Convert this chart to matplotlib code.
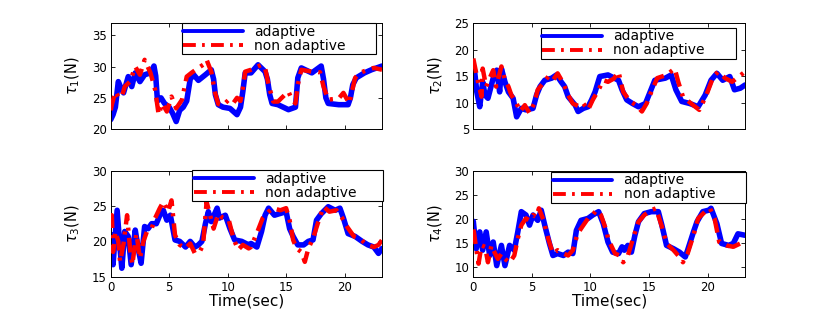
import matplotlib
matplotlib.use("Agg")
import matplotlib.pyplot as plt

# ---------------- data (time [s], torque [N]) ----------------
tau1_adaptive = [(0, 21.5), (0.2, 22.3), (0.4, 23.5), (0.65, 27.6), (0.9, 26.5), (1.1, 25.8), (1.5, 28.4),
                 (1.8, 26.8), (2.1, 29.0), (2.5, 27.6), (2.9, 28.7), (3.4, 29.0), (3.7, 30.1), (3.85, 28.5),
                 (4.0, 24.5), (4.3, 25.0), (4.6, 24.1), (5.0, 23.5), (5.3, 22.5), (5.6, 21.2), (5.9, 23.0),
                 (6.2, 23.5), (6.5, 24.5), (6.8, 28.0), (7.1, 28.7), (7.5, 27.8), (8.1, 28.7), (8.6, 29.5),
                 (8.8, 28.0), (8.95, 25.5), (9.2, 23.9), (9.6, 23.5), (10.2, 23.3), (10.8, 22.3), (11.1, 23.5),
                 (11.3, 26.0), (11.5, 29.0), (12.0, 29.0), (12.6, 30.3), (13.2, 29.2), (13.4, 28.0),
                 (13.6, 25.5), (13.8, 24.1), (14.3, 23.9), (15.2, 23.1), (15.8, 23.5), (16.0, 28.2),
                 (16.3, 29.8), (17.2, 29.0), (18.0, 30.1), (18.2, 28.0), (18.4, 25.0), (18.6, 24.1),
                 (19.5, 23.9), (20.3, 23.9), (20.5, 25.0), (20.7, 27.1), (21.0, 28.2), (21.7, 29.0),
                 (22.3, 29.5), (23.2, 30.1)]
tau1_nonadaptive = [(0, 23.0), (0.1, 23.9), (0.4, 26.0), (0.7, 25.0), (0.95, 25.2), (1.2, 26.8), (1.65, 27.6),
                    (2.1, 30.0), (2.5, 28.7), (2.9, 31.1), (3.4, 29.0), (3.8, 26.3), (4.1, 22.3), (4.4, 24.1),
                    (4.8, 22.8), (5.2, 25.2), (5.6, 23.3), (6.1, 24.7), (6.5, 28.4), (6.9, 29.0), (7.5, 29.8),
                    (7.9, 30.3), (8.2, 31.1), (8.6, 29.2), (8.9, 26.0), (9.2, 24.0), (9.6, 23.8), (10.1, 24.7),
                    (10.5, 24.2), (10.8, 25.0), (11.1, 24.5), (11.3, 26.5), (11.5, 29.2), (12.0, 29.5),
                    (12.9, 30.3), (13.2, 29.8), (13.5, 27.1), (13.9, 24.4), (14.3, 24.4), (14.9, 25.5),
                    (15.2, 26.0), (15.5, 24.7), (15.8, 24.1), (16.0, 27.1), (16.3, 29.5), (17.2, 29.2),
                    (17.9, 29.1), (18.2, 26.8), (18.6, 24.7), (19.5, 24.9), (19.9, 25.8), (20.4, 24.1),
                    (20.9, 28.2), (21.3, 29.0), (22.0, 29.5), (22.5, 29.8), (23.2, 29.5)]

tau2_adaptive = [(0, 13.0), (0.1, 16.1), (0.3, 12.0), (0.55, 9.2), (0.8, 13.9), (1.0, 11.4), (1.25, 10.8),
                 (1.7, 14.6), (2.0, 16.1), (2.25, 12.0), (2.4, 16.4), (2.7, 13.9), (3.0, 12.0), (3.4, 10.8),
                 (3.7, 7.3), (4.1, 8.9), (4.5, 8.6), (5.1, 8.9), (5.4, 11.4), (5.7, 13.0), (6.1, 14.2),
                 (6.7, 14.6), (7.1, 15.2), (7.5, 13.9), (7.8, 13.0), (8.1, 11.1), (8.7, 9.5), (8.95, 8.3),
                 (9.4, 8.9), (9.8, 9.2), (10.1, 10.5), (10.4, 12.0), (10.8, 14.9), (11.5, 15.2), (12.4, 14.2),
                 (12.7, 12.4), (13.1, 10.5), (13.6, 9.8), (14.1, 9.2), (14.7, 9.8), (15.1, 12.0), (15.5, 14.2),
                 (16.4, 14.6), (16.9, 15.2), (17.3, 12.4), (17.8, 10.2), (18.5, 9.8), (19.2, 9.2), (19.8, 11.4),
                 (20.3, 14.2), (20.8, 15.5), (21.3, 14.2), (21.9, 14.9), (22.3, 12.4), (22.8, 12.7),
                 (23.2, 13.3)]
tau2_nonadaptive = [(0, 18.3), (0.4, 13.9), (0.7, 11.1), (0.8, 16.4), (1.1, 13.0), (1.4, 14.6), (1.7, 16.1),
                    (1.95, 13.0), (2.4, 16.8), (2.7, 14.2), (3.0, 13.0), (3.25, 11.4), (3.7, 9.8), (4.0, 8.3),
                    (4.4, 9.5), (4.8, 8.0), (5.2, 9.8), (5.5, 12.4), (5.95, 13.6), (6.4, 14.9), (6.8, 14.2),
                    (7.2, 15.5), (7.7, 13.6), (8.1, 11.4), (8.5, 9.8), (9.1, 9.2), (9.4, 9.8), (9.8, 8.6),
                    (10.2, 10.5), (10.7, 12.4), (11.1, 14.2), (11.5, 13.9), (12.0, 14.5), (12.4, 15.8),
                    (12.8, 12.0), (13.4, 10.2), (13.9, 9.5), (14.4, 8.3), (14.8, 9.8), (15.2, 12.0),
                    (15.7, 14.6), (16.5, 15.2), (17.2, 16.4), (17.5, 13.9), (17.9, 11.1), (18.6, 9.8),
                    (19.3, 8.6), (19.9, 11.4), (20.5, 14.9), (20.9, 15.8), (21.5, 14.6), (22.1, 13.9),
                    (22.5, 14.6), (23.2, 15.8)]

tau3_adaptive = [(0, 21.0), (0.1, 19.0), (0.2, 16.7), (0.55, 24.4), (0.8, 19.0), (0.95, 16.2), (1.2, 21.4),
                 (1.5, 20.7), (1.75, 16.7), (2.1, 21.6), (2.35, 19.0), (2.6, 16.9), (2.9, 22.1), (3.2, 21.8),
                 (3.5, 22.5), (3.9, 22.5), (4.2, 23.7), (4.5, 24.4), (4.8, 23.0), (5.1, 23.7), (5.5, 20.2),
                 (5.9, 20.0), (6.4, 19.2), (6.8, 20.0), (7.2, 19.2), (7.5, 19.5), (7.8, 20.0), (8.1, 22.5),
                 (8.35, 24.2), (8.6, 22.8), (9.1, 24.7), (9.3, 23.3), (9.8, 23.7), (10.2, 21.8), (10.6, 20.2),
                 (11.2, 20.0), (11.8, 19.5), (12.0, 19.7), (12.5, 19.2), (12.9, 21.4), (13.2, 23.7),
                 (13.5, 24.7), (14.0, 23.7), (14.6, 24.0), (15.0, 24.2), (15.3, 21.8), (15.6, 20.7),
                 (16.0, 19.5), (16.5, 19.5), (16.9, 20.0), (17.3, 20.2), (17.6, 23.0), (18.0, 23.9),
                 (18.6, 24.9), (19.2, 24.4), (19.6, 24.7), (19.9, 23.3), (20.3, 21.1), (20.9, 20.7),
                 (21.5, 20.0), (22.0, 19.5), (22.5, 19.2), (22.9, 18.3), (23.2, 19.0)]
tau3_nonadaptive = [(0, 23.5), (0.1, 23.7), (0.2, 18.5), (0.4, 21.4), (0.65, 20.0), (0.8, 17.1), (1.1, 19.7),
                    (1.4, 23.7), (1.65, 19.0), (1.85, 16.7), (2.2, 21.1), (2.5, 17.6), (2.8, 20.0), (3.1, 21.4),
                    (3.5, 21.8), (3.8, 23.3), (4.2, 24.7), (4.5, 25.6), (4.9, 24.2), (5.2, 25.8), (5.5, 20.9),
                    (5.9, 19.5), (6.4, 19.0), (6.8, 19.7), (7.2, 18.3), (7.6, 18.5), (7.9, 19.5), (8.2, 25.6),
                    (8.5, 23.7), (8.8, 21.8), (9.2, 23.9), (9.6, 23.3), (10.1, 23.0), (10.5, 20.4),
                    (10.9, 18.8), (11.3, 19.5), (11.8, 19.0), (12.0, 19.2), (12.6, 21.6), (13.0, 23.3),
                    (13.5, 24.2), (13.9, 24.7), (14.5, 24.4), (15.0, 24.7), (15.3, 23.0), (15.6, 20.2),
                    (15.9, 19.0), (16.3, 18.5), (16.6, 17.1), (16.9, 19.0), (17.3, 20.4), (17.7, 22.5),
                    (18.2, 24.9), (18.7, 24.2), (19.3, 24.4), (19.8, 23.3), (20.2, 22.1), (20.8, 20.7),
                    (21.3, 20.4), (21.9, 19.5), (22.5, 19.2), (22.9, 19.5), (23.2, 20.2)]

tau4_adaptive = [(0, 19.5), (0.05, 18.3), (0.25, 13.8), (0.55, 17.3), (0.8, 13.5), (1.1, 17.3), (1.4, 12.4),
                 (1.7, 15.2), (2.0, 10.3), (2.4, 14.5), (2.7, 10.3), (3.1, 14.5), (3.5, 13.5), (3.8, 17.3),
                 (4.1, 21.5), (4.5, 20.8), (4.8, 18.7), (5.1, 20.8), (5.5, 19.7), (5.8, 21.8), (6.1, 18.7),
                 (6.5, 14.9), (6.8, 12.4), (7.2, 12.8), (7.7, 12.4), (8.1, 13.1), (8.5, 12.8), (8.8, 17.6),
                 (9.2, 19.7), (9.8, 20.1), (10.2, 20.8), (10.7, 21.5), (11.1, 19.0), (11.5, 15.2),
                 (11.9, 13.1), (12.4, 12.8), (12.7, 14.2), (12.9, 13.5), (13.2, 14.5), (13.5, 13.1),
                 (13.8, 16.6), (14.1, 19.4), (14.6, 21.1), (15.2, 21.5), (15.8, 21.5), (16.1, 18.7),
                 (16.5, 14.5), (17.1, 13.8), (17.6, 13.1), (18.1, 12.1), (18.3, 13.5), (18.8, 17.3),
                 (19.1, 19.4), (19.6, 21.5), (20.1, 21.8), (20.3, 22.2), (20.8, 19.0), (21.2, 14.9),
                 (21.8, 14.5), (22.2, 14.9), (22.6, 16.9), (23.2, 16.6)]
tau4_nonadaptive = [(0, 17.8), (0.05, 17.3), (0.25, 13.8), (0.45, 10.7), (0.7, 14.5), (1.0, 14.2), (1.25, 11.0),
                    (1.55, 14.5), (1.8, 13.1), (2.1, 11.7), (2.4, 12.8), (2.7, 11.7), (3.1, 10.9), (3.5, 12.4),
                    (3.8, 15.9), (4.1, 18.7), (4.5, 20.1), (4.8, 19.7), (5.1, 20.8), (5.4, 20.4), (5.6, 22.2),
                    (6.0, 19.7), (6.4, 15.9), (6.8, 12.8), (7.2, 13.5), (7.7, 12.8), (8.1, 12.4), (8.5, 13.5),
                    (8.9, 16.9), (9.4, 18.7), (9.8, 20.1), (10.2, 20.8), (10.5, 21.8), (10.9, 20.8),
                    (11.4, 17.3), (11.5, 15.9), (12.1, 12.8), (12.5, 12.4), (12.8, 11.0), (13.2, 12.4),
                    (13.6, 15.6), (14.1, 19.4), (14.6, 20.8), (15.2, 21.8), (15.6, 22.2), (16.1, 18.4),
                    (16.5, 14.9), (17.1, 13.5), (17.6, 12.1), (17.9, 11.0), (18.3, 12.8), (18.8, 16.6),
                    (19.2, 20.1), (19.8, 21.5), (20.2, 22.2), (20.6, 20.1), (21.0, 15.2), (21.6, 14.5),
                    (22.2, 14.2), (22.8, 14.9), (23.2, 15.6)]

series_labels = ["adaptive", "non adaptive"]
y_labels = [r"$\tau_1$(N)", r"$\tau_2$(N)", r"$\tau_3$(N)", r"$\tau_4$(N)"]
y_ticks = [[20, 25, 30, 35], [5, 10, 15, 20, 25], [15, 20, 25, 30], [10, 15, 20, 25, 30]]
y_limits = [(20, 37), (5, 25), (15, 30), (8, 30)]
x_ticks = [0, 5, 10, 15, 20]
x_label = "Time(sec)"

panels = [(tau1_adaptive, tau1_nonadaptive), (tau2_adaptive, tau2_nonadaptive),
          (tau3_adaptive, tau3_nonadaptive), (tau4_adaptive, tau4_nonadaptive)]

# ---------------- layout ----------------
W, H = 822, 311
fig = plt.figure(figsize=(W / 100, H / 100), dpi=100)
plt.rcParams['font.family'] = ['DejaVu Sans']

# axes boxes in pixel coords (left, top, right, bottom)
boxes = [(110.7, 23, 382, 129), (473.3, 23, 745, 129),
         (110.7, 170.7, 382, 276.7), (473.3, 170.7, 745, 276.7)]
# legend boxes in pixel coords
leg_boxes = [(181.7, 23, 375.7, 54), (540.7, 27.7, 735.7, 55),
             (192.3, 170, 383, 201), (551, 171.7, 745.7, 203.3)]

dash_dot = (0, (3.3, 1.6, 0.7, 1.6))

for i, (adp, non) in enumerate(panels):
    l, t, r, b = boxes[i]
    ax = fig.add_axes([l / W, 1 - b / H, (r - l) / W, (b - t) / H])
    ta, va = zip(*adp)
    tn, vn = zip(*non)
    ax.plot(ta, va, color="#0000ff", lw=4.0, solid_capstyle="round", solid_joinstyle="round",
            label=series_labels[0], zorder=2)
    ax.plot(tn, vn, color="#ff0000", lw=3.2, linestyle=dash_dot, dash_capstyle="butt",
            label=series_labels[1], zorder=3)
    ax.set_xlim(0, 23.2)
    ax.set_ylim(*y_limits[i])
    ax.set_xticks(x_ticks)
    ax.set_yticks(y_ticks[i])
    ax.tick_params(direction="in", top=True, right=True, length=3, width=0.6, labelsize=8.5, pad=3)
    if i < 2:
        ax.set_xticklabels([])
    else:
        ax.set_xlabel(x_label, fontsize=11, labelpad=0)
    ax.set_ylabel(y_labels[i], fontsize=10.5, labelpad=7)
    for sp in ax.spines.values():
        sp.set_linewidth(0.7)

    lx0, ly0, lx1, ly1 = leg_boxes[i]
    ax_x0 = (lx0 - l) / (r - l)
    ax_x1 = (lx1 - l) / (r - l)
    ax_y1 = (b - ly0) / (b - t)
    ax_y0 = (b - ly1) / (b - t)
    leg = ax.legend(loc="upper left", bbox_to_anchor=(ax_x0, ax_y0, ax_x1 - ax_x0, ax_y1 - ax_y0),
                    mode="expand", borderaxespad=0, fontsize=10, handlelength=4.3, handletextpad=0.8,
                    borderpad=0.12, labelspacing=0.0, fancybox=False, frameon=True)
    leg.get_frame().set_edgecolor("black")
    leg.get_frame().set_linewidth(0.8)
    leg.get_frame().set_alpha(1)
    for h in leg.get_lines():
        h.set_linewidth(2.8)

fig.savefig("out.png", dpi=100)
